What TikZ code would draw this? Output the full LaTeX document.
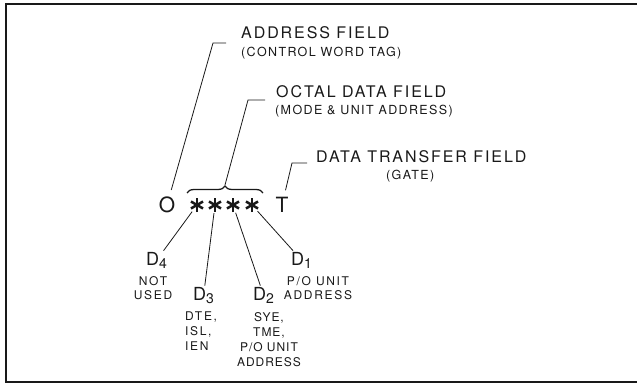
\documentclass[tikz,border=0pt]{standalone}
\usepackage{fontspec}
\setmainfont{TeX Gyre Heros}
\usetikzlibrary{decorations.pathreplacing}
\definecolor{ink}{RGB}{25,25,25}
\newcommand{\dlab}[1]{D\raisebox{-3.5pt}{\fontsize{14}{14}\selectfont#1}}

\begin{document}
\begin{tikzpicture}[x=1pt,y=-1pt,
    every node/.style={text=ink,inner sep=1pt},
    lbl/.style={anchor=base west,font=\fontsize{16}{16}\selectfont\addfontfeatures{LetterSpace=12}},
    sublbl/.style={anchor=base west,font=\fontsize{12.5}{12.5}\selectfont\addfontfeatures{LetterSpace=11}},
    bitlbl/.style={font=\fontsize{21}{21}\selectfont},
    dlbl/.style={anchor=base west,font=\fontsize{18}{18}\selectfont},
    note/.style={anchor=north,align=center,font=\fontsize{12}{14}\selectfont\addfontfeatures{LetterSpace=14}},
    astr/.style={circle,minimum size=16pt,inner sep=0pt},
    leader/.style={draw=ink,line width=0.8pt}]
  \useasboundingbox (0,0) rectangle (637,385);
  \draw[ink,line width=2pt] (637,4) -- (6,4) -- (6,382) -- (637,382);

  % field names
  \node[lbl] (addr) at (240,39) {ADDRESS FIELD};
  \node[sublbl] (addrsub) at (240,57) {(CONTROL WORD TAG)};
  \node[lbl] (octal) at (275,98) {OCTAL DATA FIELD};
  \node[sublbl] (octalsub) at (274,115) {(MODE \& UNIT ADDRESS)};
  \node[lbl] (xfer) at (315,162) {DATA TRANSFER FIELD};
  \node[sublbl] (xfersub) at (385,179) {(GATE)};

  % the control word
  \node[bitlbl] (o) at (167,205) {O};
  \node[bitlbl] (t) at (282,205) {T};
  \foreach \x [count=\i] in {197,215,233,252}
  {
    \node[astr] (s\i) at (\x,205) {};
    \foreach \a in {90,30,150}
      \draw[ink,line width=2.5pt] ([shift={(\a:7)}]s\i.center) -- ([shift={(\a+180:7)}]s\i.center);
  }
  \draw[ink,line width=1.3pt,decorate,decoration={brace,amplitude=7pt}] (187,193) -- (263,193);
  \coordinate (bt) at (225,185);

  % leaders to the field names
  \coordinate (ka) at (213,43);
  \coordinate (ea) at (226,43);
  \coordinate (ko) at (248,100);
  \coordinate (eo) at (265,100);
  \coordinate (kx) at (292,163);
  \coordinate (ex) at (307,163);
  \draw[leader,shorten <=6pt] (o) -- (ka) -- (ea);
  \draw[leader] (bt) -- (ko) -- (eo);
  \draw[leader,shorten <=6pt] (t) -- (kx) -- (ex);

  % bits
  \node[dlbl] (d4) at (145,265) {\dlab{4}};
  \node[dlbl] (d3) at (192,300) {\dlab{3}};
  \node[dlbl] (d2) at (252,300) {\dlab{2}};
  \node[dlbl] (d1) at (290,265) {\dlab{1}};
  \node[note] (n4) at (153,275) {NOT\\USED};
  \node[note,anchor=north west,align=left,font=\fontsize{12}{15}\selectfont\addfontfeatures{LetterSpace=14}] (n3) at (184,311) {DTE,\\ISL,\\IEN};
  \node[note,font=\fontsize{12}{15}\selectfont\addfontfeatures{LetterSpace=8}] (n2) at (269,311) {SYE,\\TME,\\P/O UNIT\\ADDRESS};
  \node[note] (n1) at (318,275) {P/O UNIT\\ADDRESS};
  \foreach \i/\d in {1/d4,2/d3,3/d2,4/d1}
    \draw[leader] (s\i) -- (\d);
\end{tikzpicture}
\end{document}
